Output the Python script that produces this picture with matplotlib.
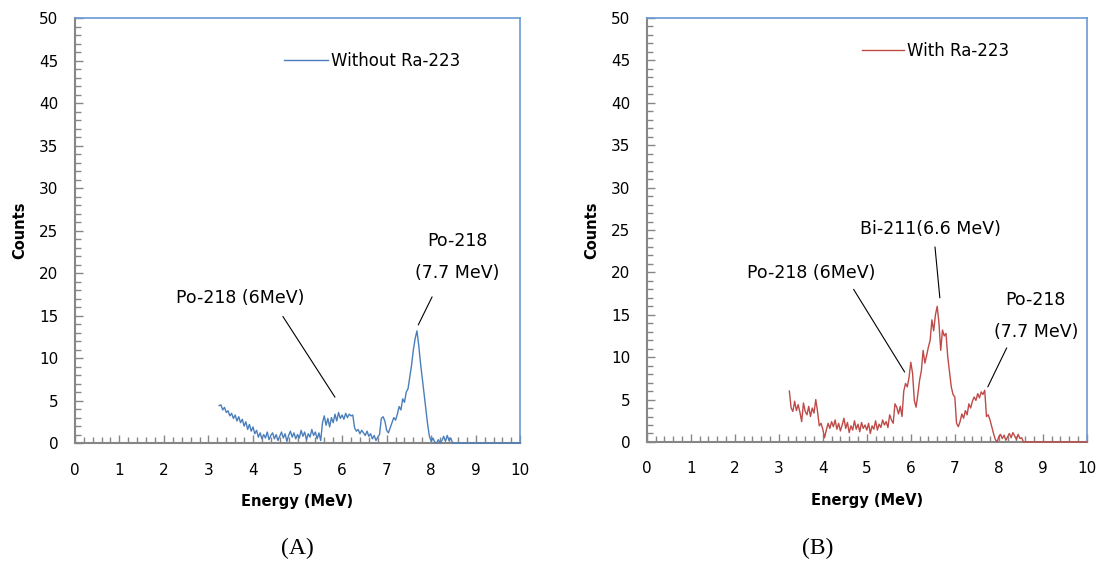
import numpy as np
import matplotlib
matplotlib.use('Agg')
import matplotlib.pyplot as plt
from matplotlib.ticker import MultipleLocator

# energia de cada canal (MeV), paso de 0.04 desde 3.24 hasta 8.60, y luego 10
energia = list(np.round(np.arange(3.24, 8.601, 0.04), 2)) + [10.0]

# cuentas sin Ra-223
sin_ra = [4.4, 4.5, 3.9, 4.2, 3.6,
          3.8, 3.2, 3.5, 2.9, 3.3,
          2.6, 3.1, 2.4, 2.8, 2.0,
          2.5, 1.6, 2.2, 1.4, 1.9,
          1.1, 1.5, 0.7, 1.2, 0.5,
          1.0, 0.6, 1.3, 0.4, 0.9,
          1.2, 0.5, 1.0, 0.3, 0.8,
          1.3, 0.6, 1.1, 0.2, 0.9,
          1.4, 0.7, 1.2, 0.5, 1.0,
          0.6, 1.5, 0.8, 1.3, 0.4,
          1.1, 0.7, 1.6, 0.9, 1.3,
          0.5, 1.2, 0.3, 2.4, 3.2,
          2.1, 2.9, 1.9, 3.0, 2.4,
          3.4, 2.6, 3.6, 2.9, 3.3,
          2.8, 3.5, 3.0, 3.4, 3.2,
          3.3, 1.8, 1.4, 1.6, 1.1,
          1.5, 1.2, 0.9, 1.4, 0.8,
          1.1, 0.5, 0.9, 0.3, 0.7,
          1.0, 2.9, 3.1, 2.6, 1.5,
          1.2, 1.8, 2.4, 3.0, 2.7,
          3.4, 4.3, 3.9, 5.2, 4.8,
          6.0, 6.4, 7.8, 9.2, 11.0,
          12.3, 13.2, 11.5, 9.4, 7.6,
          5.8, 4.0, 2.2, 0.8, 0.2,
          0.6, 0.1, 0.0, 0.4, 0.0,
          0.3, 0.8, 0.2, 0.9, 0.3,
          0.6, 0.0, 0.0, 0.0, 0.0,
          0.0]

# cuentas con Ra-223
con_ra = [6.0, 4.0, 3.6, 4.8, 3.7,
          4.4, 3.5, 2.4, 4.6, 3.6,
          3.2, 4.2, 3.0, 4.0, 3.4,
          5.0, 3.6, 1.9, 2.2, 1.5,
          0.5, 1.4, 2.2, 1.6, 2.4,
          1.8, 2.6, 1.5, 2.2, 1.3,
          2.0, 2.8, 1.6, 2.3, 1.1,
          1.9, 1.4, 2.5, 1.5, 2.1,
          1.2, 2.3, 1.6, 2.0, 1.4,
          2.2, 1.0, 1.9, 1.5, 2.5,
          1.4, 2.1, 1.7, 2.6, 2.0,
          2.4, 1.7, 3.2, 2.6, 2.2,
          4.5, 4.1, 3.3, 4.2, 3.0,
          6.0, 6.9, 6.5, 7.6, 9.4,
          8.1, 4.9, 4.1, 5.6, 7.3,
          8.4, 10.8, 9.3, 10.2, 11.2,
          12.0, 14.4, 13.1, 15.0, 16.0,
          14.0, 10.8, 13.2, 12.5, 12.8,
          10.0, 8.2, 6.5, 5.6, 5.3,
          2.2, 1.8, 2.4, 3.3, 2.8,
          3.7, 3.2, 4.5, 4.0, 4.8,
          5.3, 4.9, 5.7, 5.2, 5.9,
          5.6, 6.1, 3.0, 3.2, 2.6,
          1.8, 1.0, 0.3, 0.0, 0.6,
          0.9, 0.4, 0.8, 0.2, 0.6,
          1.0, 0.5, 1.1, 0.7, 0.3,
          0.9, 0.4, 0.5, 0.0, 0.0,
          0.0]

gris = '#868686'
borde = '#6a9ad4'

fig = plt.figure(figsize=(11, 5.63), dpi=100)
axA = fig.add_axes([0.068, 0.213, 0.405, 0.755])
axB = fig.add_axes([0.588, 0.215, 0.400, 0.753])


def estilo(ax):
    ax.set_xlim(0, 10)
    ax.set_ylim(0, 50)
    ax.xaxis.set_major_locator(MultipleLocator(1))
    ax.xaxis.set_minor_locator(MultipleLocator(0.2))
    ax.yaxis.set_major_locator(MultipleLocator(5))
    ax.yaxis.set_minor_locator(MultipleLocator(1))
    ax.spines['left'].set_color(gris)
    ax.spines['bottom'].set_color(gris)
    ax.spines['left'].set_linewidth(1.5)
    ax.spines['bottom'].set_linewidth(1.5)
    ax.spines['top'].set_color(borde)
    ax.spines['right'].set_color(borde)
    ax.spines['top'].set_linewidth(1.2)
    ax.spines['right'].set_linewidth(1.2)
    ax.tick_params(which='both', direction='in', color=gris, top=False, right=False)
    ax.tick_params(which='major', length=6, width=1)
    ax.tick_params(which='minor', length=4, width=1)
    ax.tick_params(axis='x', which='major', pad=14, labelsize=11)
    ax.tick_params(axis='y', which='major', pad=12, labelsize=11)
    ax.set_xlabel('Energy (MeV)', fontsize=10.5, fontweight='bold', labelpad=12)
    ax.set_ylabel('Counts', fontsize=10.5, fontweight='bold', labelpad=8)


axA.plot(energia, sin_ra, color='#4a7ebb', lw=1.0, label='Without Ra-223',
         clip_on=False, zorder=3)
axB.plot(energia, con_ra, color='#be4b48', lw=1.0, label='With Ra-223',
         clip_on=False, zorder=3)
estilo(axA)
estilo(axB)

axA.legend(loc='center left', bbox_to_anchor=(0.47, 0.90), frameon=False, fontsize=12,
           handlelength=2.6, handletextpad=0.2, borderpad=0, borderaxespad=0)
axB.legend(loc='center left', bbox_to_anchor=(0.489, 0.922), frameon=False, fontsize=12,
           handlelength=2.5, handletextpad=0.2, borderpad=0, borderaxespad=0)

# anotaciones
lin = dict(arrowstyle='-', color='black', lw=0.8, shrinkA=0, shrinkB=0)
axA.text(3.71, 17.1, 'Po-218 (6MeV)', ha='center', va='center', fontsize=12.5)
axA.annotate('', xy=(5.84, 5.4), xytext=(4.67, 14.9), arrowprops=lin)
axA.text(8.58, 21.9, 'Po-218\n(7.7 MeV)', ha='center', va='center', fontsize=12.5, linespacing=2.0)
axA.annotate('', xy=(7.71, 13.9), xytext=(8.02, 17.2), arrowprops=lin)

axB.text(3.73, 19.9, 'Po-218 (6MeV)', ha='center', va='center', fontsize=12.5)
axB.annotate('', xy=(5.86, 8.25), xytext=(4.70, 18.0), arrowprops=lin)
axB.text(6.45, 25.1, 'Bi-211(6.6 MeV)', ha='center', va='center', fontsize=12.5)
axB.annotate('', xy=(6.66, 17.0), xytext=(6.55, 23.0), arrowprops=lin)
axB.text(8.84, 14.9, 'Po-218\n(7.7 MeV)', ha='center', va='center', fontsize=12.5, linespacing=2.0)
axB.annotate('', xy=(7.75, 6.5), xytext=(8.18, 11.1), arrowprops=lin)

fig.text(297 / 1100, 1 - 548 / 563, '(A)', ha='center', va='center', fontsize=17,
         family='Liberation Serif')
fig.text(818 / 1100, 1 - 548 / 563, '(B)', ha='center', va='center', fontsize=17,
         family='Liberation Serif')

fig.savefig('out.png', dpi=100)
